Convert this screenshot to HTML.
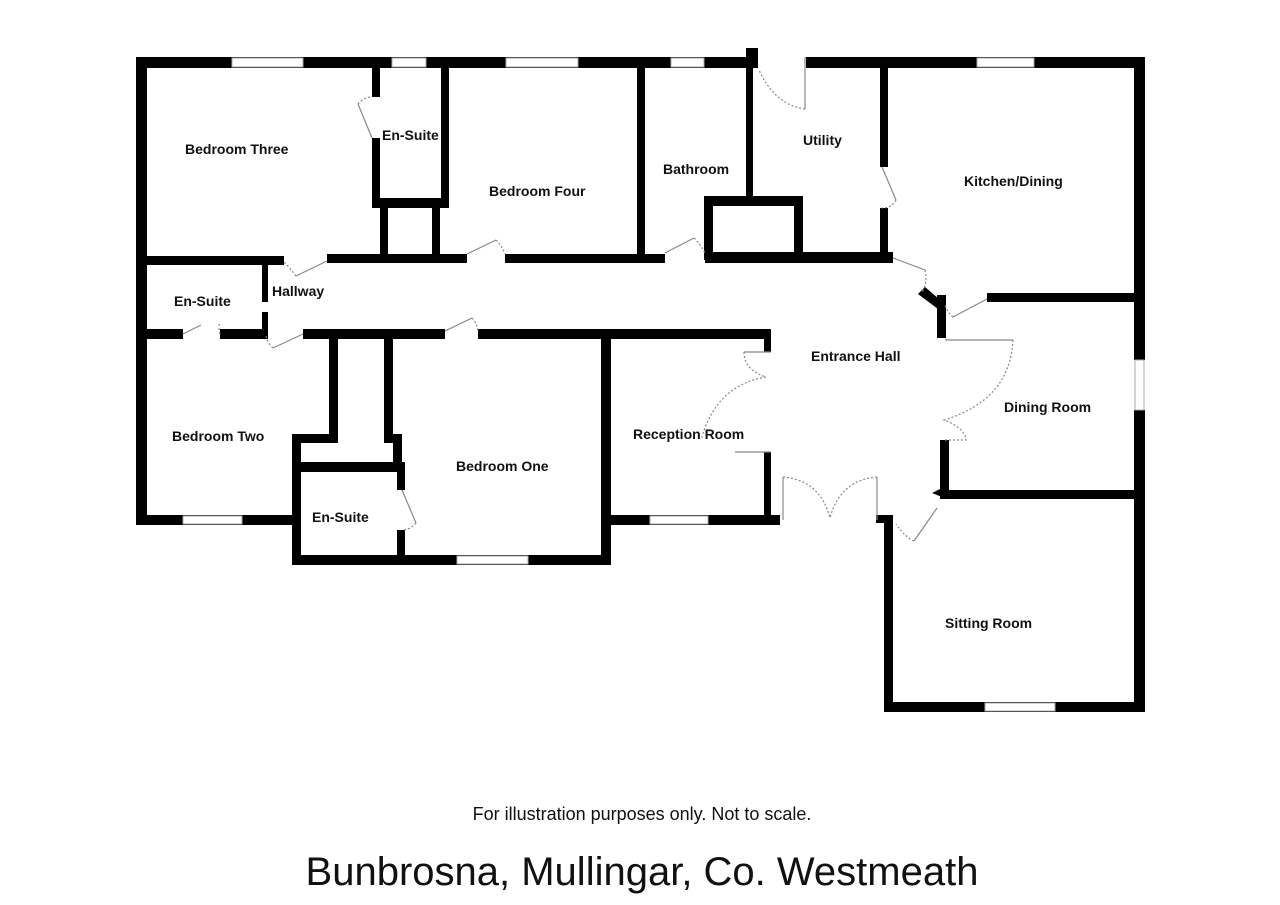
<!DOCTYPE html>
<html><head><meta charset="utf-8"><style>
html,body{margin:0;padding:0;background:#fff;width:1280px;height:905px;overflow:hidden}
svg{display:block}
text{font-family:"Liberation Sans",Arial,sans-serif}
.l{font-weight:bold;font-size:14px;fill:#111}
</style></head><body>
<svg width="1280" height="905" viewBox="0 0 1280 905" xmlns="http://www.w3.org/2000/svg">
<g fill="#000">
<rect x="136" y="57" width="621" height="11"/>
<rect x="746" y="48" width="12" height="20"/>
<rect x="806" y="57" width="339" height="11"/>
<rect x="136" y="57" width="11" height="468"/>
<rect x="1134" y="57" width="11" height="303"/>
<rect x="1134" y="410" width="11" height="302"/>
<rect x="136" y="256" width="148" height="9"/>
<rect x="327" y="254" width="140" height="9"/>
<rect x="505" y="254" width="160" height="9"/>
<rect x="705" y="252" width="188" height="11"/>
<rect x="372" y="57" width="8" height="40"/>
<rect x="372" y="138" width="8" height="70"/>
<rect x="441" y="57" width="8" height="151"/>
<rect x="372" y="198" width="77" height="10"/>
<rect x="380" y="200" width="8" height="60"/>
<rect x="432" y="200" width="8" height="60"/>
<rect x="637" y="57" width="8" height="200"/>
<rect x="746" y="57" width="7" height="142"/>
<rect x="704" y="196" width="99" height="10"/>
<rect x="704" y="196" width="9" height="64"/>
<rect x="794" y="196" width="9" height="64"/>
<rect x="880" y="57" width="8" height="110"/>
<rect x="880" y="208" width="8" height="50"/>
<rect x="987" y="293" width="158" height="9"/>
<rect x="937" y="295" width="9" height="43"/>
<polygon points="918,294 925,287 946,305 946,315"/>
<rect x="940" y="440" width="9" height="57"/>
<rect x="940" y="490" width="205" height="9"/>
<rect x="884" y="515" width="9" height="197"/>
<rect x="876" y="515" width="17" height="8"/>
<rect x="884" y="702" width="261" height="10"/>
<rect x="262" y="262" width="6" height="40"/>
<rect x="262" y="312" width="6" height="25"/>
<rect x="136" y="329" width="47" height="10"/>
<rect x="220" y="329" width="48" height="10"/>
<rect x="303" y="329" width="142" height="10"/>
<rect x="478" y="329" width="293" height="10"/>
<rect x="764" y="329" width="7" height="23"/>
<rect x="764" y="452" width="7" height="73"/>
<rect x="601" y="335" width="10" height="230"/>
<rect x="610" y="515" width="170" height="10"/>
<rect x="136" y="515" width="164" height="10"/>
<rect x="329" y="335" width="9" height="108"/>
<rect x="384" y="335" width="9" height="108"/>
<rect x="292" y="434" width="46" height="9"/>
<rect x="384" y="434" width="18" height="9"/>
<rect x="292" y="434" width="9" height="131"/>
<rect x="393" y="434" width="9" height="38"/>
<rect x="292" y="462" width="110" height="10"/>
<rect x="397" y="462" width="8" height="28"/>
<rect x="397" y="530" width="8" height="35"/>
<rect x="292" y="555" width="319" height="10"/>
</g>
<g fill="#fff" stroke="#aaa" stroke-width="1">
<rect x="232" y="58" width="71" height="9"/>
<rect x="392" y="58" width="34" height="9"/>
<rect x="506" y="58" width="72" height="9"/>
<rect x="671" y="58" width="33" height="9"/>
<rect x="977" y="58" width="57" height="9"/>
<rect x="1135" y="360" width="9" height="50"/>
<rect x="985" y="703" width="70" height="8"/>
<rect x="183" y="516" width="59" height="8"/>
<rect x="457" y="556" width="71" height="8"/>
<rect x="650" y="516" width="58" height="8"/>
</g>
<g fill="none" stroke="#888" stroke-width="1.2">
<line x1="372" y1="138" x2="358" y2="104"/><path d="M358,104 Q364,97 372,97" stroke-dasharray="2,2"/>
<line x1="327" y1="261" x2="296" y2="276"/><path d="M296,276 Q290,268 284,262" stroke-dasharray="2,2"/>
<line x1="467" y1="254" x2="496" y2="240"/><path d="M496,240 Q502,246 505,254" stroke-dasharray="2,2"/>
<line x1="665" y1="253" x2="694" y2="238"/><path d="M694,238 Q701,245 705,253" stroke-dasharray="2,2"/>
<line x1="805" y1="57" x2="805" y2="109"/><path d="M805,109 Q775,105 759,70" stroke-dasharray="2,2"/>
<line x1="882" y1="167" x2="896" y2="200"/><path d="M896,200 Q892,208 882,208" stroke-dasharray="2,2"/>
<line x1="893" y1="258" x2="925" y2="270"/><path d="M925,270 Q928,282 922,292" stroke-dasharray="2,2"/>
<line x1="987" y1="299" x2="953" y2="317"/><path d="M953,317 Q947,312 945,305" stroke-dasharray="2,2"/>
<line x1="183" y1="334" x2="201" y2="325"/><path d="M220,334 Q218,327 220,322" stroke-dasharray="2,2"/>
<line x1="303" y1="334" x2="273" y2="348"/><path d="M273,348 Q267,342 266,336" stroke-dasharray="2,2"/>
<line x1="445" y1="331" x2="472" y2="318"/><path d="M472,318 Q477,323 478,331" stroke-dasharray="2,2"/>
<line x1="402" y1="490" x2="416" y2="523"/><path d="M416,523 Q410,530 402,530" stroke-dasharray="2,2"/>
<line x1="771" y1="352" x2="744" y2="352"/><path d="M744,352 Q744,370 766,377 Q716,385 701,440" stroke-dasharray="2,2"/>
<line x1="771" y1="452" x2="735" y2="452"/>
<line x1="945" y1="340" x2="1013" y2="340"/><path d="M1013,340 Q1010,400 944,420 Q965,428 966,440 L945,440" stroke-dasharray="2,2"/>
<line x1="783" y1="520" x2="783" y2="477"/><path d="M783,477 Q820,480 830,518" stroke-dasharray="2,2"/>
<line x1="877" y1="520" x2="877" y2="477"/><path d="M877,477 Q840,480 830,518" stroke-dasharray="2,2"/>
<line x1="914" y1="541" x2="937" y2="508"/><path d="M914,541 Q905,537 896,524" stroke-dasharray="2,2"/>
</g>
<polygon points="932,493 942,488 942,497" fill="#000"/>
<g class="l">
<text class="l" x="185" y="154">Bedroom Three</text>
<text class="l" x="382" y="140">En-Suite</text>
<text class="l" x="489" y="196">Bedroom Four</text>
<text class="l" x="663" y="174">Bathroom</text>
<text class="l" x="803" y="145">Utility</text>
<text class="l" x="964" y="186">Kitchen/Dining</text>
<text class="l" x="174" y="306">En-Suite</text>
<text class="l" x="272" y="296">Hallway</text>
<text class="l" x="811" y="361">Entrance Hall</text>
<text class="l" x="1004" y="412">Dining Room</text>
<text class="l" x="633" y="439">Reception Room</text>
<text class="l" x="172" y="441">Bedroom Two</text>
<text class="l" x="456" y="471">Bedroom One</text>
<text class="l" x="312" y="522">En-Suite</text>
<text class="l" x="945" y="628">Sitting Room</text>
</g>
<text x="642" y="820" text-anchor="middle" font-size="18" fill="#111">For illustration purposes only. Not to scale.</text>
<text x="642" y="885" text-anchor="middle" font-size="40" fill="#111">Bunbrosna, Mullingar, Co. Westmeath</text>
</svg>
</body></html>
